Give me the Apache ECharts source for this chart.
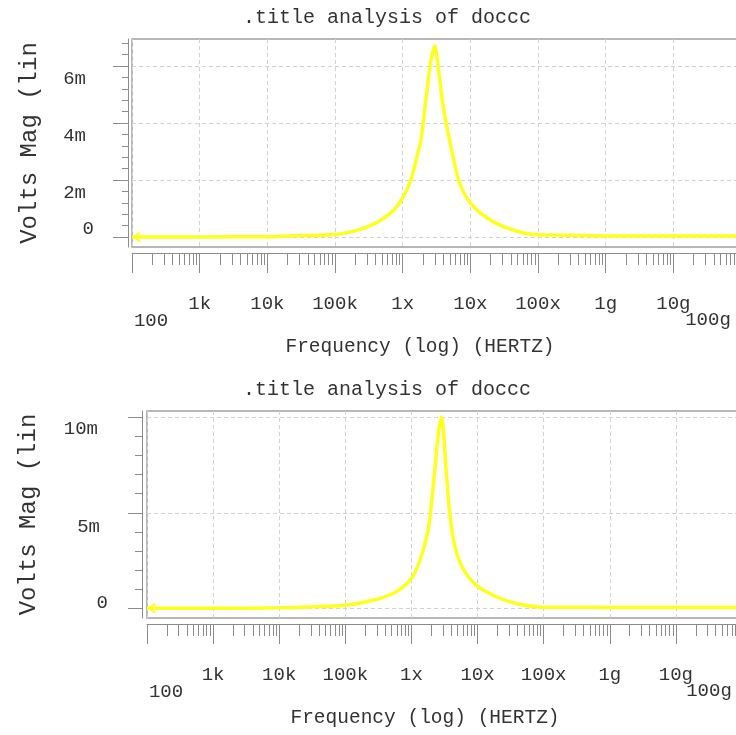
<!DOCTYPE html>
<html>
<head>
<meta charset="utf-8">
<script src="https://cdn.jsdelivr.net/npm/echarts@6/dist/echarts.min.js"></script>
<style>
html,body{margin:0;padding:0;background:#fff;}
#chart{width:736px;height:735px;}
</style>
</head>
<body>
<div id="chart"></div>
<script>
// ---- data (frequency in Hz, magnitude in volts) ----
const titleText = '.title analysis of doccc';
const xAxisName = 'Frequency (log) (HERTZ)';
const yAxisName = 'Volts Mag (lin';

const xTickValues = [1e2, 1e3, 1e4, 1e5, 1e6, 1e7, 1e8, 1e9, 1e10, 1e11];
const xTickLabels = ['100', '1k', '10k', '100k', '1x', '10x', '100x', '1g', '10g', '100g'];

const yTickValuesTop = [0, 0.002, 0.004, 0.006];
const yTickLabelsTop = ['0', '2m', '4m', '6m'];
const yTickValuesBottom = [0, 0.005, 0.010];
const yTickLabelsBottom = ['0', '5m', '10m'];

const freqTop = [1e2, 1e3, 1e4, 3.1e4, 1e5, 3e5, 6.6e5, 1e6, 1.32e6, 1.66e6, 1.86e6, 2.19e6, 2.6e6, 2.98e6, 3.45e6, 4.09e6, 5.14e6, 6.82e6, 1e7, 1.8e7, 3.56e7, 7.87e7, 1.73e8, 1e9, 1e10, 1e11];
const magTop  = [0.000003, 0.000005, 0.000012, 0.00005, 0.00009, 0.00036, 0.00084, 0.00137, 0.0020, 0.0029, 0.0034, 0.00475, 0.00615, 0.0067, 0.0057, 0.0044, 0.0032, 0.00195, 0.0012, 0.00066, 0.00031, 0.0001, 0.00007, 0.00004, 0.000035, 0.000035];

const freqBottom = [1e2, 1e3, 1e4, 2.9e4, 1e5, 2.95e5, 5.9e5, 1e6, 1.32e6, 1.68e6, 1.88e6, 2.24e6, 2.51e6, 2.83e6, 3.37e6, 3.78e6, 4.5e6, 6e6, 9.55e6, 1.92e7, 3.85e7, 8.65e7, 3e8, 1e9, 1e11];
const magBottom  = [0.000005, 0.00001, 0.00003, 0.00008, 0.00017, 0.00047, 0.00087, 0.00157, 0.00244, 0.00366, 0.0046, 0.0071, 0.0089, 0.0100, 0.0071, 0.00505, 0.0033, 0.0021, 0.00122, 0.00061, 0.00026, 0.00008, 0.00006, 0.000055, 0.00005];

// ---- helpers ----
const FONT = 'Liberation Mono';
const TXT = '#333';
const AX = '#8c8c8c';
const GRIDLINE = '#d2d2d2';
const CURVE = '#ffff1f';

function minorLinear(step, from, to) {
  const out = [];
  const n = Math.round((to - from) / step);
  for (let i = 0; i <= n; i++) out.push(+(from + i * step).toFixed(6));
  return out;
}
function minorLog() {
  const out = [];
  for (let e = 2; e < 11; e++) for (let m = 2; m <= 9; m++) out.push(m * Math.pow(10, e));
  return out;
}
function nearestIdx(arr, v) {
  let b = 0;
  for (let i = 1; i < arr.length; i++) if (Math.abs(arr[i] - v) < Math.abs(arr[b] - v)) b = i;
  return b;
}
function nearestLogIdx(arr, v) {
  let b = 0;
  for (let i = 1; i < arr.length; i++) if (Math.abs(Math.log10(arr[i]) - Math.log10(v)) < Math.abs(Math.log10(arr[b]) - Math.log10(v))) b = i;
  return b;
}
function pairs(xs, ys) {
  return xs.map((x, i) => {
    if (i === 0) {
      return {
        value: [x, ys[i]],
        symbol: 'path://M10,0 L0,5 L10,10 L10,7.6 L3.6,5 L10,2.4 Z',
        symbolSize: [8, 11],
        symbolOffset: [4, 0],
        itemStyle: { color: CURVE }
      };
    }
    return [x, ys[i]];
  });
}
const richBase = { fontFamily: FONT, fontSize: 19, color: TXT };

function xAxes(gridIndex) {
  const common = {
    gridIndex, type: 'log', logBase: 10, min: 1e2, max: 1e11,
    position: 'bottom', offset: 6
  };
  return [
    Object.assign({}, common, {
      interval: 1,
      axisLine: { show: true, onZero: false, lineStyle: { color: AX, width: 1 } },
      axisTick: { show: true, inside: false, length: 20, lineStyle: { color: AX } },
      axisLabel: {
        show: true, margin: 41, showMinLabel: true, showMaxLabel: false, hideOverlap: false,
        fontFamily: FONT, fontSize: 19, color: TXT,
        formatter: function (v) {
          const i = nearestLogIdx(xTickValues, v);
          if (i === 0) return '{first|' + xTickLabels[i] + '}';
          return '{mid|' + xTickLabels[i] + '}';
        },
        rich: {
          mid: Object.assign({}, richBase),
          first: Object.assign({ padding: [17, 0, 0, 38] }, richBase)
        }
      },
      splitLine: { show: true, lineStyle: { color: GRIDLINE, type: [4, 3], width: 1 } },
      name: xAxisName, nameLocation: 'middle', nameGap: 84,
      nameTextStyle: { fontFamily: FONT, fontSize: 19.5, color: TXT, padding: [0, gridIndex === 0 ? 33 : 39, 0, 0] }
    }),
    Object.assign({}, common, {
      axisLine: { show: false, onZero: false },
      axisTick: { show: true, inside: false, length: 12, customValues: minorLog(), lineStyle: { color: AX } },
      axisLabel: { show: false },
      splitLine: { show: false }
    }),
    // carries only the label at the far (max) end of the axis
    Object.assign({}, common, {
      interval: 9,
      axisLine: { show: false, onZero: false },
      axisTick: { show: false },
      axisLabel: {
        show: true, margin: 41, showMinLabel: false, showMaxLabel: true, hideOverlap: false,
        fontFamily: FONT, fontSize: 19, color: TXT,
        formatter: function (v) {
          const i = nearestLogIdx(xTickValues, v);
          return '{last|' + xTickLabels[i] + '}';
        },
        rich: { last: Object.assign({ padding: [16, 66, 0, 0] }, richBase) }
      },
      splitLine: { show: false }
    })
  ];
}

function yAxes(gridIndex, min, max, vals, labels, minorVals, offset, majorLen, minorLen, richDefs, nameGap) {
  return [
    {
      gridIndex, type: 'value', min, max, position: 'left', offset,
      axisLine: { show: true, onZero: false, lineStyle: { color: AX, width: 1 } },
      axisTick: { show: true, inside: false, length: majorLen, customValues: vals, lineStyle: { color: AX } },
      axisLabel: {
        show: true, customValues: vals, margin: 34, showMinLabel: true, showMaxLabel: true, hideOverlap: false,
        fontFamily: FONT, fontSize: 19, color: TXT,
        formatter: function (v) {
          const i = nearestIdx(vals, v);
          return '{' + richDefs.keys[i] + '|' + labels[i] + '}';
        },
        rich: richDefs.rich
      },
      splitLine: { show: true, lineStyle: { color: GRIDLINE, type: [4, 3], width: 1 } },
      name: yAxisName, nameLocation: 'middle', nameRotate: 90, nameGap,
      nameTextStyle: { fontFamily: FONT, fontSize: 24, color: TXT }
    },
    {
      gridIndex, type: 'value', min, max, position: 'left', offset,
      axisLine: { show: false, onZero: false },
      axisTick: { show: true, inside: false, length: minorLen, customValues: minorVals, lineStyle: { color: AX } },
      axisLabel: { show: false },
      splitLine: { show: false }
    }
  ];
}

const topRich = {
  keys: ['z', 'm', 'm', 'm'],
  rich: {
    z: Object.assign({ padding: [0, 0, 16, 0] }, richBase),
    m: Object.assign({ padding: [26, 8, 0, 0] }, richBase)
  }
};
const bottomRich = {
  keys: ['z', 'm5', 'm10'],
  rich: {
    z: Object.assign({ padding: [0, 0, 10, 0] }, richBase),
    m5: Object.assign({ padding: [28, 8, 0, 0] }, richBase),
    m10: Object.assign({ padding: [23, 10, 0, 0] }, richBase)
  }
};

const gridStyle = { show: true, borderColor: '#a0a0a0', borderWidth: 1.5, backgroundColor: '#fff', containLabel: false, outerBoundsMode: 'none' };

const option = {
  backgroundColor: '#fff',
  animation: false,
  title: [
    { text: titleText, left: 243, top: 8, padding: 0, textStyle: { fontFamily: FONT, fontSize: 20, fontWeight: 'normal', color: TXT } },
    { text: titleText, left: 243, top: 380, padding: 0, textStyle: { fontFamily: FONT, fontSize: 20, fontWeight: 'normal', color: TXT } }
  ],
  grid: [
    Object.assign({ left: 132, top: 39, width: 609, height: 208 }, gridStyle),
    Object.assign({ left: 147, top: 411, width: 595, height: 207 }, gridStyle)
  ],
  xAxis: xAxes(0).concat(xAxes(1)),
  yAxis: yAxes(0, -0.00035, 0.00695, yTickValuesTop, yTickLabelsTop, minorLinear(0.0004, 0, 0.0068), 4, 15, 6, topRich, 86)
    .concat(yAxes(1, -0.0005, 0.01032, yTickValuesBottom, yTickLabelsBottom, minorLinear(0.001, 0, 0.010), 5, 14, 7, bottomRich, 101)),
  series: [
    {
      type: 'line', xAxisIndex: 0, yAxisIndex: 0, data: pairs(freqTop, magTop),
      showSymbol: true, symbol: 'none', smooth: 0.3, clip: false,
      lineStyle: { color: CURVE, width: 3.5 }, itemStyle: { color: CURVE }
    },
    {
      type: 'line', xAxisIndex: 3, yAxisIndex: 2, data: pairs(freqBottom, magBottom),
      showSymbol: true, symbol: 'none', smooth: 0.3, clip: false,
      lineStyle: { color: CURVE, width: 3.5 }, itemStyle: { color: CURVE }
    }
  ]
};

const chart = echarts.init(document.getElementById('chart'), null, { renderer: 'canvas' });
chart.setOption(option);
</script>
</body>
</html>
